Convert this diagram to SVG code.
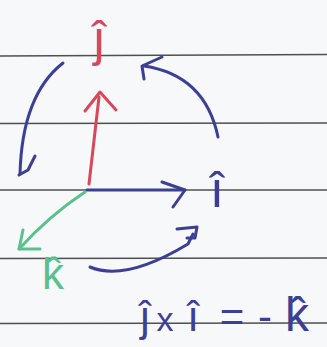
<svg xmlns="http://www.w3.org/2000/svg" width="327" height="347" viewBox="0 0 327 347">
<style>
.rule{stroke:#4d4f52;stroke-width:1.3;fill:none}
.pen{fill:none;stroke-width:3;stroke-linecap:round;stroke-linejoin:round}
.red{stroke:#d9475a}
.blue{stroke:#3d3f95}
.green{stroke:#5cc08e}
.lbl{font-family:"Liberation Sans",Arial,sans-serif;text-anchor:middle}
</style>
<rect width="327" height="347" fill="#f6f8f9"/>
<g id="paper">
<line class="rule" x1="0" y1="56" x2="327" y2="54.5"/>
<line class="rule" x1="0" y1="123.5" x2="327" y2="123"/>
<line class="rule" x1="0" y1="190" x2="327" y2="190"/>
<line class="rule" x1="0" y1="258.5" x2="327" y2="258"/>
<line class="rule" x1="0" y1="323.5" x2="327" y2="323"/>
</g>
<g id="connectors">
<!-- red j vector -->
<path class="pen red" d="M89,184 L99,97"/>
<polyline class="pen red" points="85,111 100,92 116,110"/>
<!-- blue i vector -->
<path class="pen blue" d="M87,190 L185,190"/>
<polyline class="pen blue" points="162,182 185,190 173,207"/>
<!-- green k vector -->
<path class="pen green" d="M85,192 Q50,215 19,249"/>
<polyline class="pen green" points="23,230 19,249 40,249"/>
<!-- left curved arrow -->
<path class="pen blue" d="M63,63 Q22,95 20,174"/>
<polyline class="pen blue" points="35,156 28,170 19,175"/>
<!-- right curved arrow -->
<path class="pen blue" d="M144,66 Q205,75 218,137"/>
<polyline class="pen blue" points="162,57 142,66 144,79"/>
<!-- bottom curved arrow -->
<path class="pen blue" d="M90,267 Q125,282 188,244 L193,234"/>
<polyline class="pen blue" points="177,229 197,227 195,238 187,238"/>
</g>
<g id="node-j">
<text class="lbl" x="99" y="56" font-size="50" fill="#d9475a">ĵ</text>
</g>
<g id="node-i">
<text class="lbl" x="217" y="207" font-size="50" fill="#3d3f95">î</text>
</g>
<g id="node-k">
<text class="lbl" x="53" y="289" font-size="44" fill="#5cc08e">k̂</text>
</g>
<g id="equation">
<text class="lbl" y="331" font-size="42" fill="#3d3f95"><tspan x="145">ĵ</tspan><tspan x="165" font-size="34">x</tspan><tspan x="193">î</tspan><tspan x="232">=</tspan><tspan x="265">-</tspan><tspan x="297" font-size="48">k̂</tspan></text>
</g>
</svg>
